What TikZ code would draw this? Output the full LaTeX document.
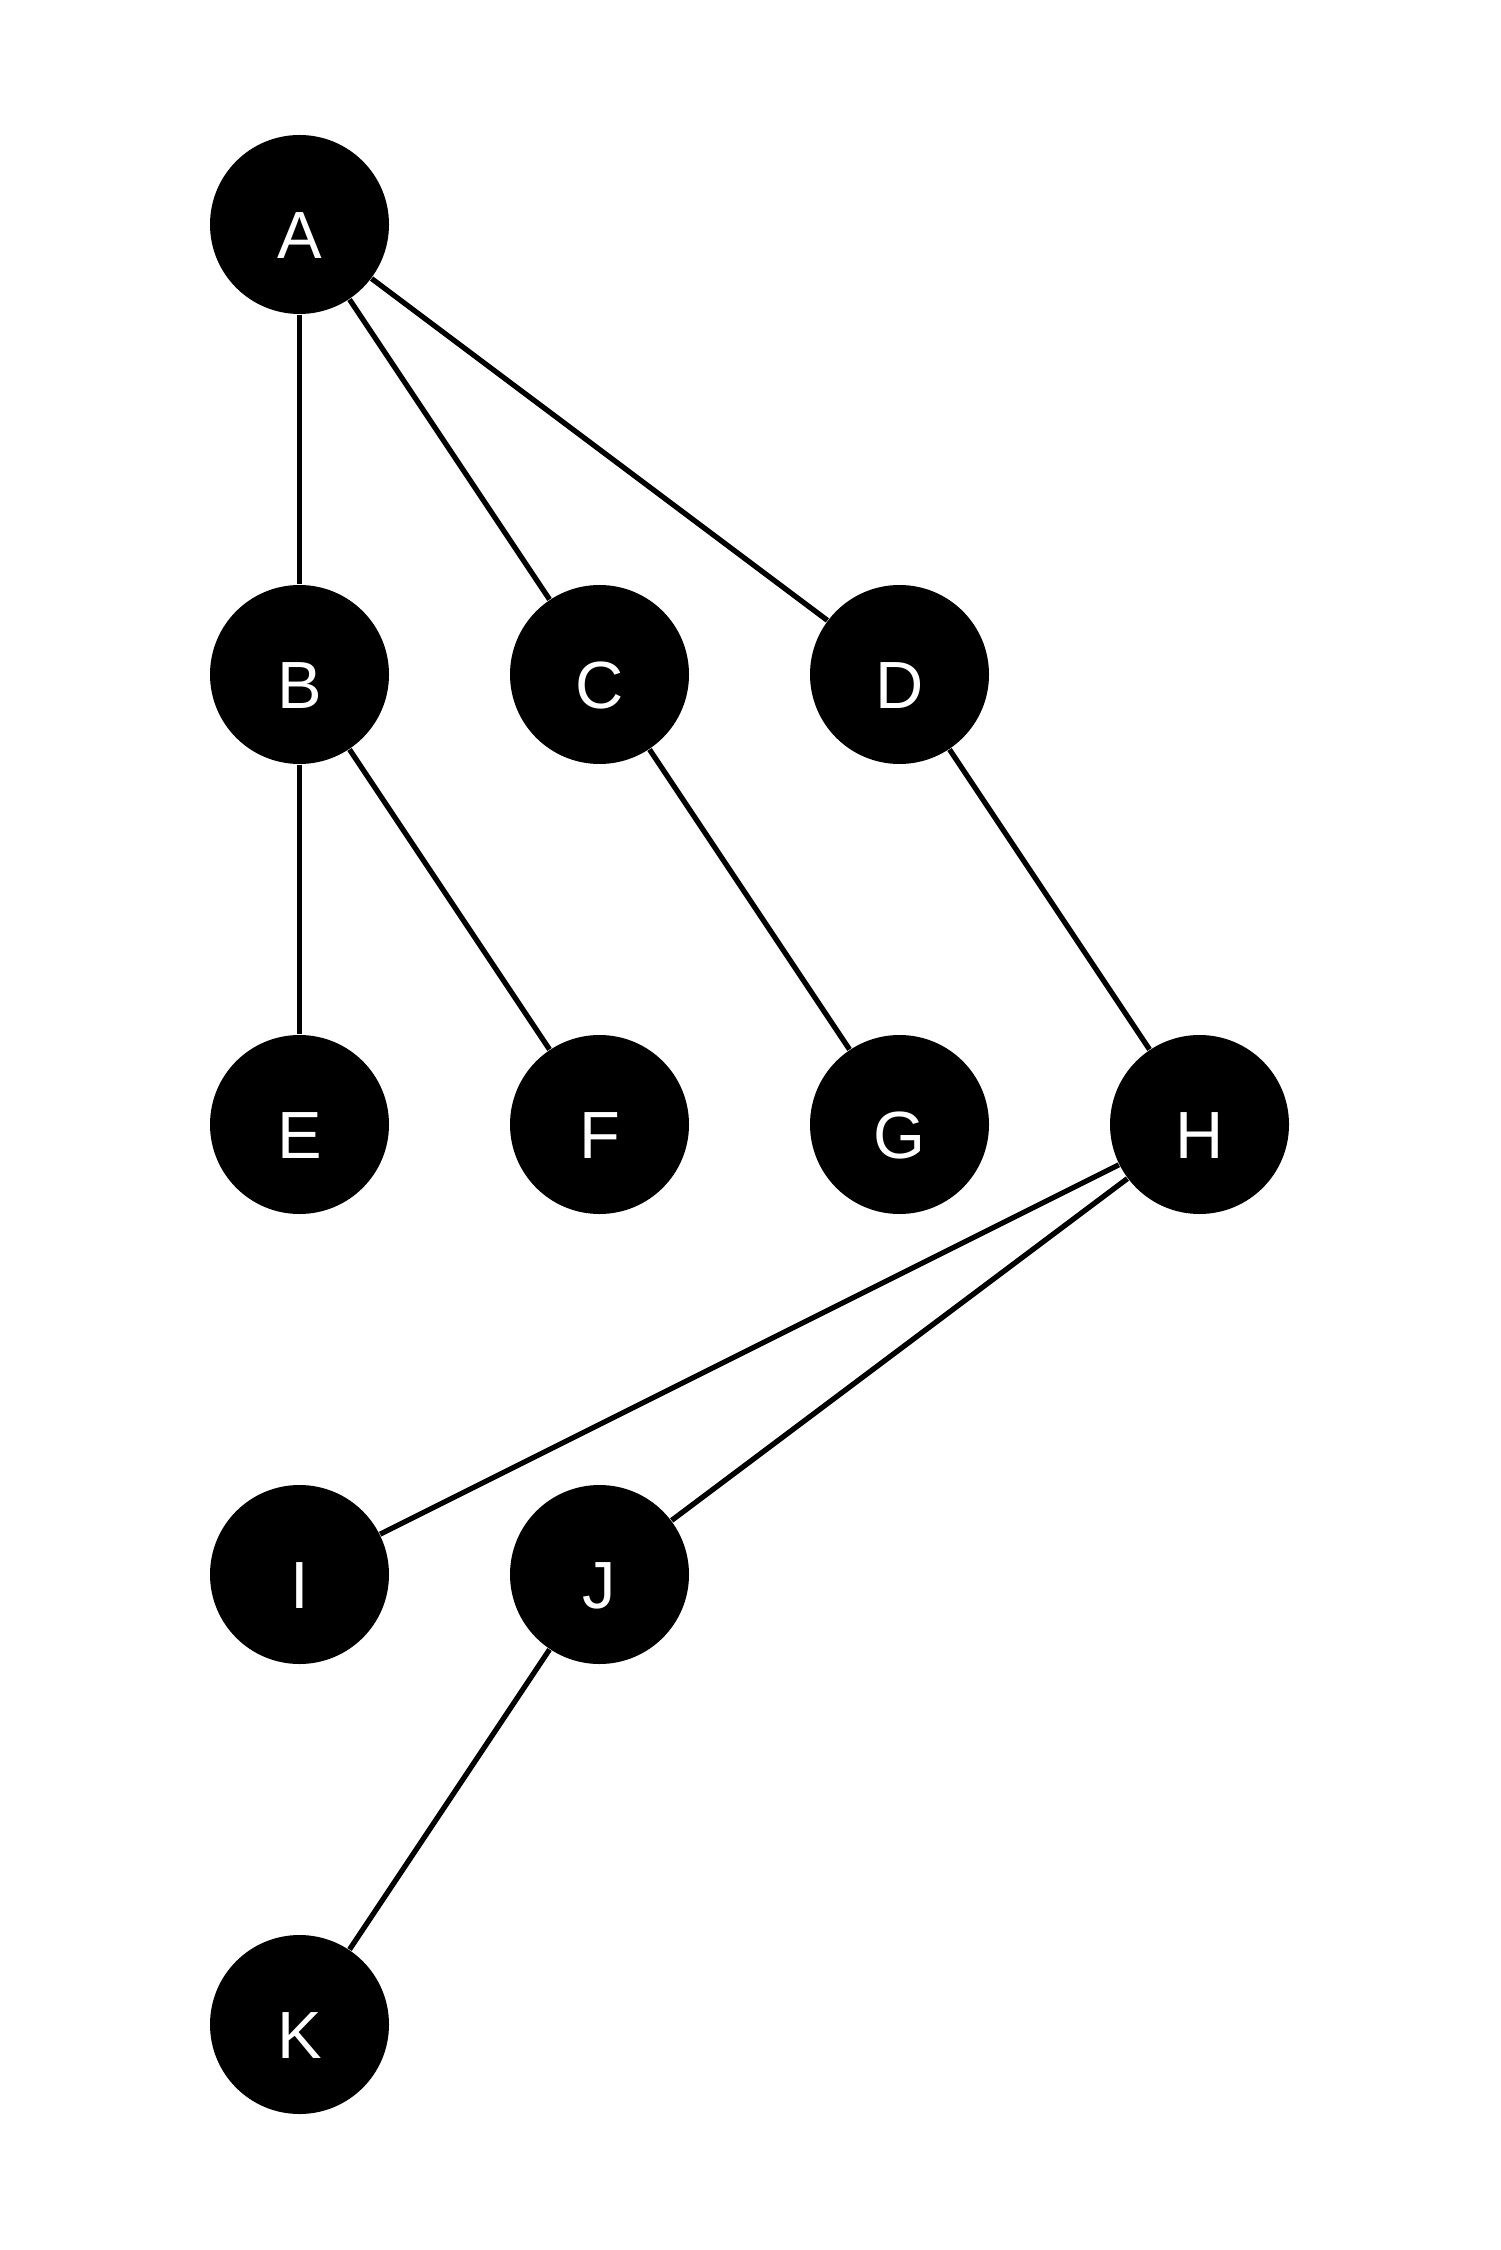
\documentclass[tikz,border=0pt]{standalone}
\usepackage{fontspec}
\setmainfont{Liberation Sans}
\usepackage{tikz}
\usetikzlibrary{positioning,calc}

\tikzset{
    vertex/.style={circle, fill=black, draw=none, minimum size=1.79cm, inner sep=0pt,
        text=white, font=\fontsize{19}{23}\selectfont, text height=0.68cm, text depth=0cm},
    edge/.style={line width=1.5pt, black}
}

\begin{document}
\begin{tikzpicture}
    \def \dx {3.0}
    \def \dy {4.5}
    \def \ox {2.995}
    \def \oy {-2.245}

    \useasboundingbox (0,0) rectangle (15,-22.5);

    % rows of the tree
    \node[vertex] (A) at (\ox,\oy) {A};

    \node[vertex] (B) at (\ox,\oy-\dy) {B};
    \node[vertex] (C) at (\ox+\dx,\oy-\dy) {C};
    \node[vertex] (D) at (\ox+2*\dx,\oy-\dy) {D};

    \node[vertex] (E) at (\ox,\oy-2*\dy) {E};
    \node[vertex] (F) at (\ox+\dx,\oy-2*\dy) {F};
    \node[vertex] (G) at (\ox+2*\dx,\oy-2*\dy) {G};
    \node[vertex] (H) at (\ox+3*\dx,\oy-2*\dy) {H};

    \node[vertex] (I) at (\ox,\oy-3*\dy) {I};
    \node[vertex] (J) at (\ox+\dx,\oy-3*\dy) {J};

    \node[vertex] (K) at (\ox,\oy-4*\dy) {K};

    % edges
    \foreach \a/\b in {A/B, A/C, A/D, B/E, B/F, C/G, D/H, H/I, H/J, J/K}
     \draw[edge] (\a) -- (\b);
\end{tikzpicture}
\end{document}
